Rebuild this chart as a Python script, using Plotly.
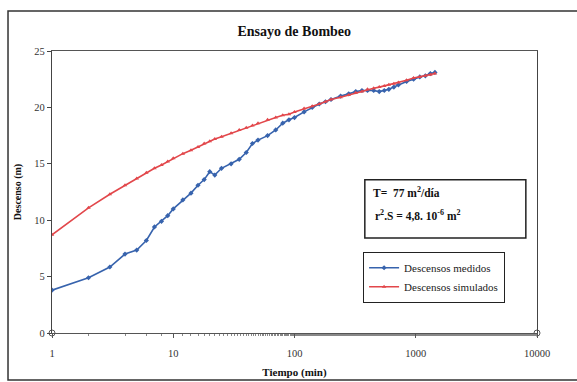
import plotly.graph_objects as go

# Pumping test: time since start of pumping (min) and drawdown (m)
tiempo = [1, 2, 3, 4, 5, 6, 7, 8, 9, 10, 12, 14, 16, 18, 20, 22, 25, 30, 35, 40,
          45, 50, 60, 70, 80, 90, 100, 120, 140, 160, 180, 200, 240, 280, 320,
          360, 400, 450, 500, 550, 600, 660, 720, 840, 960, 1080, 1200, 1320, 1440]

descenso_medido = [3.8, 4.9, 5.85, 7.0, 7.35, 8.2, 9.4, 9.9, 10.4, 11.0, 11.8, 12.4,
                   13.1, 13.6, 14.3, 14.0, 14.6, 15.0, 15.4, 16.0, 16.8, 17.1, 17.5,
                   18.0, 18.6, 18.9, 19.1, 19.6, 20.0, 20.3, 20.5, 20.7, 21.0, 21.2,
                   21.4, 21.5, 21.5, 21.5, 21.4, 21.5, 21.6, 21.8, 22.0, 22.3, 22.5,
                   22.7, 22.8, 23.0, 23.1]

descenso_simulado = [8.7, 11.1, 12.3, 13.1, 13.7, 14.2, 14.6, 14.9, 15.2, 15.5, 15.9,
                     16.2, 16.5, 16.8, 17.0, 17.2, 17.4, 17.7, 18.0, 18.2, 18.4, 18.6,
                     18.9, 19.1, 19.3, 19.4, 19.6, 19.9, 20.1, 20.3, 20.5, 20.7, 20.9,
                     21.1, 21.3, 21.4, 21.6, 21.7, 21.8, 21.9, 22.0, 22.1, 22.2, 22.4,
                     22.6, 22.7, 22.8, 22.9, 23.0]

# Axis corner points
esquinas_x = [1, 10000]
esquinas_y = [0, 0]

x_ticks = [1, 10, 100, 1000, 10000]
y_ticks = [0, 5, 10, 15, 20, 25]

FONT = "Liberation Serif, Times New Roman, serif"
AZUL = "#3763ad"
ROJO = "#e2474b"

fig = go.Figure()

fig.add_trace(go.Scatter(
    x=tiempo, y=descenso_medido, mode="lines+markers",
    name="Descensos medidos",
    line=dict(color=AZUL, width=1.6),
    marker=dict(symbol="diamond", size=4, color=AZUL),
))
fig.add_trace(go.Scatter(
    x=tiempo, y=descenso_simulado, mode="lines+markers",
    name="Descensos simulados",
    line=dict(color=ROJO, width=1.6),
    marker=dict(symbol="triangle-up", size=4, color=ROJO),
))
fig.add_trace(go.Scatter(
    x=esquinas_x, y=esquinas_y, mode="markers", showlegend=False,
    marker=dict(symbol="circle-open", size=6, color="#555555", line=dict(width=1)),
    cliponaxis=False, hoverinfo="skip",
))

fig.update_layout(
    width=577, height=382,
    margin=dict(l=52, r=40, t=51, b=49, autoexpand=False),
    paper_bgcolor="white", plot_bgcolor="white",
    font=dict(family=FONT, color="#222222", size=10),
    title=dict(text="<b>Ensayo de Bombeo</b>", x=0.51, xanchor="center",
               y=0.918, yanchor="middle", font=dict(family=FONT, size=14, color="#111111")),
    xaxis=dict(
        type="log", range=[0, 4], tickvals=x_ticks, ticktext=[str(v) for v in x_ticks],
        automargin=False,
        showgrid=False, zeroline=False, showline=True, linecolor="#555555", linewidth=1.2,
        mirror=True, ticks="outside", ticklen=4, tickcolor="#555555",
        ticklabelstandoff=6,
        minor=dict(ticks="outside", ticklen=2, tickcolor="#888888", showgrid=False),
        tickfont=dict(family=FONT, size=10.5, color="#333333"),
        title=dict(text="<b>Tiempo (min)</b>", standoff=10,
                   font=dict(family=FONT, size=11, color="#111111")),
    ),
    yaxis=dict(
        range=[0, 25], tickvals=y_ticks, automargin=False,
        showgrid=False, zeroline=False, showline=True, linecolor="#444444", linewidth=1.2,
        mirror=True, ticks="outside", ticklen=4, tickcolor="#444444",
        tickfont=dict(family=FONT, size=10.5, color="#333333"),
        title=dict(text="<b>Descenso (m)</b>", standoff=10,
                   font=dict(family=FONT, size=10, color="#111111")),
    ),
    legend=dict(
        x=0.641, y=0.287, xanchor="left", yanchor="top",
        bordercolor="#222222", borderwidth=1.2, bgcolor="white",
        font=dict(family=FONT, size=11, color="#222222"),
        itemwidth=30, tracegroupgap=0,
    ),
    shapes=[
        # chart area frame
        dict(type="rect", xref="paper", yref="paper",
             x0=-0.0907, x1=1.2, y0=-0.167, y1=1.142,
             line=dict(color="#333333", width=1.5), layer="below"),
        # parameter box
        dict(type="rect", xref="paper", yref="paper",
             x0=0.645, x1=0.977, y0=0.337, y1=0.543,
             line=dict(color="#222222", width=1.5), fillcolor="white"),
    ],
    annotations=[
        dict(xref="paper", yref="paper", x=0.658, y=0.50, xanchor="left", yanchor="middle",
             showarrow=False, align="left",
             text="<b>T=  77 m<sup>2</sup>/día</b>",
             font=dict(family=FONT, size=11.5, color="#111111")),
        dict(xref="paper", yref="paper", x=0.662, y=0.42, xanchor="left", yanchor="middle",
             showarrow=False, align="left",
             text="<b>r<sup>2</sup>.S = 4,8. 10<sup>-6</sup> m<sup>2</sup></b>",
             font=dict(family=FONT, size=11.5, color="#111111")),
    ],
)

fig.write_html("out.html")
